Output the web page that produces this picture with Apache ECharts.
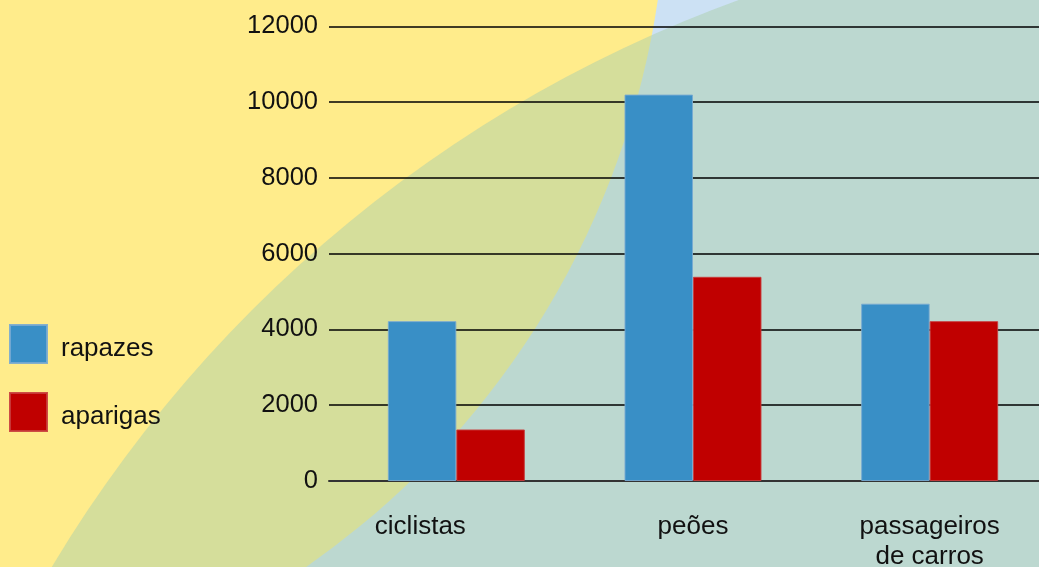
<!DOCTYPE html>
<html>
<head>
<meta charset="utf-8">
<script src="https://cdn.jsdelivr.net/npm/echarts@6/dist/echarts.min.js"></script>
<style>
html,body{margin:0;padding:0;background:#cce1f4;}
#chart{width:1039px;height:567px;}
</style>
</head>
<body>
<div id="chart"></div>
<script>
const categories = ['ciclistas', 'peões', 'passageiros\nde carros'];
const seriesNames = ['rapazes', 'aparigas'];
const rapazes = [4220, 10200, 4680];
const aparigas = [1360, 5390, 4220];
const yMin = 0, yMax = 12000, yStep = 2000;

const FONT = '"Liberation Sans", Arial, sans-serif';
const chart = echarts.init(document.getElementById('chart'), null, {renderer: 'canvas'});

chart.setOption({
  backgroundColor: '#cce1f4',
  animation: false,
  textStyle: {fontFamily: FONT},
  graphic: [
    {type: 'circle', z: -100, silent: true, shape: {cx: -175, cy: -124, r: 842}, style: {fill: '#ffec8b'}},
    {type: 'circle', z: -99, silent: true, shape: {cx: 1193, cy: 1250, r: 1330}, style: {fill: 'rgba(172,207,172,0.5)'}}
  ],
  legend: {
    orient: 'vertical',
    left: 9, top: 324, padding: 0,
    itemWidth: 37, itemHeight: 38, itemGap: 28,
    icon: 'rect',
    data: seriesNames,
    formatter: '{t|{name}}',
    textStyle: {
      fontSize: 26, color: '#111', fontFamily: FONT, padding: [0, 0, 0, 9],
      rich: {t: {fontSize: 26, color: '#111', fontFamily: FONT, lineHeight: 30, padding: [10, 0, 0, 0]}}
    }
  },
  grid: [
    {left: 329, width: 710, top: 26.4, bottom: 86, containLabel: false, outerBoundsMode: 'none'},
    {left: 338, width: 710, top: 26.4, bottom: 86, containLabel: false, outerBoundsMode: 'none'}
  ],
  xAxis: [
    {type: 'category', gridIndex: 0, data: categories, axisLabel: {show: false}, axisTick: {show: false},
     axisLine: {show: true, lineStyle: {color: '#333', width: 2}}},
    {type: 'category', gridIndex: 1, data: categories, axisTick: {show: false}, axisLine: {show: false},
     axisLabel: {
       fontSize: 26, color: '#111', fontFamily: FONT, margin: 31, lineHeight: 30, interval: 0,
       formatter: function (v, i) { return i === 0 ? '{a|' + v + '}' : v; },
       rich: {a: {fontSize: 26, color: '#111', fontFamily: FONT, padding: [0, 72, 0, 0]}}
     }}
  ],
  yAxis: [
    {type: 'value', gridIndex: 0, min: yMin, max: yMax, interval: yStep,
     axisLine: {show: false}, axisTick: {show: false},
     axisLabel: {fontSize: 25.5, color: '#111', fontFamily: FONT, margin: 11, formatter: function (v) { return String(v); }},
     splitLine: {show: true, lineStyle: {color: '#000', width: 1.5}}},
    {type: 'value', gridIndex: 1, min: yMin, max: yMax, interval: yStep, show: false, splitLine: {show: false}}
  ],
  series: [
    {name: seriesNames[0], type: 'bar', xAxisIndex: 1, yAxisIndex: 1, data: rapazes, barWidth: 68.5, barGap: '0%',
     itemStyle: {color: '#398fc6', borderColor: 'rgba(120,170,210,0.9)', borderWidth: 1}},
    {name: seriesNames[1], type: 'bar', xAxisIndex: 1, yAxisIndex: 1, data: aparigas, barWidth: 68.5, barGap: '0%',
     itemStyle: {color: '#c00000', borderColor: 'rgba(200,60,60,0.9)', borderWidth: 1}}
  ]
});
</script>
</body>
</html>
